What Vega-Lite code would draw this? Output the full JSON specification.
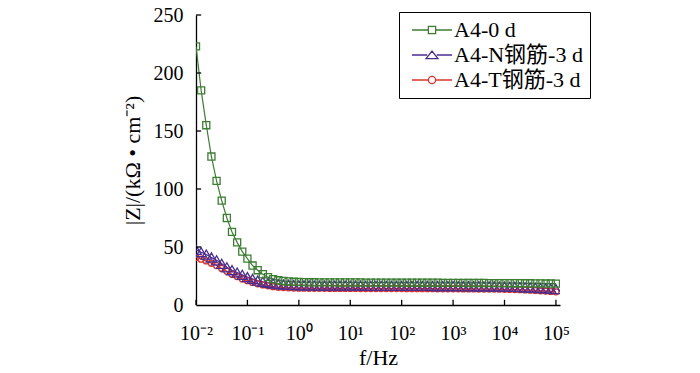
{
  "$schema": "https://vega.github.io/schema/vega-lite/v6.json",
  "autosize": "none",
  "width": 364,
  "height": 290,
  "padding": {"left": 196, "top": 15, "right": 140, "bottom": 68},
  "background": "white",
  "config": {
    "view": {"stroke": null},
    "font": "Liberation Serif",
    "axis": {"grid": false, "ticks": false, "domainColor": "black", "domainWidth": 1.3, "labelColor": "black", "titleColor": "black", "labelFont": "Liberation Serif", "titleFont": "Liberation Serif", "labelFontSize": 20, "titleFontSize": 22, "titleFontWeight": "normal"}
  },
  "datasets": {
    "xt": [{"f":0.01},{"f":0.1},{"f":1},{"f":10},{"f":100},{"f":1000},{"f":10000},{"f":100000}],
    "yt": [{"z":50},{"z":100},{"z":150},{"z":200},{"z":250}],
    "eis": [
      {"s":"A4-T钢筋-3 d","f":0.01,"z":41},{"s":"A4-T钢筋-3 d","f":0.01259,"z":39.5},{"s":"A4-T钢筋-3 d","f":0.01585,"z":38},{"s":"A4-T钢筋-3 d","f":0.01995,"z":36},{"s":"A4-T钢筋-3 d","f":0.02512,"z":34},{"s":"A4-T钢筋-3 d","f":0.03162,"z":31.5},{"s":"A4-T钢筋-3 d","f":0.03981,"z":29},{"s":"A4-T钢筋-3 d","f":0.05012,"z":26.5},{"s":"A4-T钢筋-3 d","f":0.0631,"z":24.5},{"s":"A4-T钢筋-3 d","f":0.07943,"z":22.5},
      {"s":"A4-T钢筋-3 d","f":0.1,"z":21},{"s":"A4-T钢筋-3 d","f":0.1259,"z":19.5},{"s":"A4-T钢筋-3 d","f":0.1585,"z":18.3},{"s":"A4-T钢筋-3 d","f":0.1995,"z":17.3},{"s":"A4-T钢筋-3 d","f":0.2512,"z":16.5},{"s":"A4-T钢筋-3 d","f":0.3162,"z":15.8},{"s":"A4-T钢筋-3 d","f":0.3981,"z":15.3},{"s":"A4-T钢筋-3 d","f":0.5012,"z":15},{"s":"A4-T钢筋-3 d","f":0.631,"z":14.8},{"s":"A4-T钢筋-3 d","f":0.7943,"z":14.6},
      {"s":"A4-T钢筋-3 d","f":1,"z":14.5},{"s":"A4-T钢筋-3 d","f":1.259,"z":14.5},{"s":"A4-T钢筋-3 d","f":1.585,"z":14.4},{"s":"A4-T钢筋-3 d","f":1.995,"z":14.4},{"s":"A4-T钢筋-3 d","f":2.512,"z":14.4},{"s":"A4-T钢筋-3 d","f":3.162,"z":14.4},{"s":"A4-T钢筋-3 d","f":3.981,"z":14.3},{"s":"A4-T钢筋-3 d","f":5.012,"z":14.3},{"s":"A4-T钢筋-3 d","f":6.31,"z":14.3},{"s":"A4-T钢筋-3 d","f":7.943,"z":14.3},
      {"s":"A4-T钢筋-3 d","f":10,"z":14.3},{"s":"A4-T钢筋-3 d","f":12.59,"z":14.3},{"s":"A4-T钢筋-3 d","f":15.85,"z":14.2},{"s":"A4-T钢筋-3 d","f":19.95,"z":14.2},{"s":"A4-T钢筋-3 d","f":25.12,"z":14.2},{"s":"A4-T钢筋-3 d","f":31.62,"z":14.2},{"s":"A4-T钢筋-3 d","f":39.81,"z":14.2},{"s":"A4-T钢筋-3 d","f":50.12,"z":14.2},{"s":"A4-T钢筋-3 d","f":63.1,"z":14.2},{"s":"A4-T钢筋-3 d","f":79.43,"z":14.2},
      {"s":"A4-T钢筋-3 d","f":100,"z":14.2},{"s":"A4-T钢筋-3 d","f":125.9,"z":14.1},{"s":"A4-T钢筋-3 d","f":158.5,"z":14.1},{"s":"A4-T钢筋-3 d","f":199.5,"z":14.1},{"s":"A4-T钢筋-3 d","f":251.2,"z":14.1},{"s":"A4-T钢筋-3 d","f":316.2,"z":14.1},{"s":"A4-T钢筋-3 d","f":398.1,"z":14.1},{"s":"A4-T钢筋-3 d","f":501.2,"z":14},{"s":"A4-T钢筋-3 d","f":631,"z":14},{"s":"A4-T钢筋-3 d","f":794.3,"z":14},
      {"s":"A4-T钢筋-3 d","f":1000,"z":14},{"s":"A4-T钢筋-3 d","f":1259,"z":14},{"s":"A4-T钢筋-3 d","f":1585,"z":13.9},{"s":"A4-T钢筋-3 d","f":1995,"z":13.9},{"s":"A4-T钢筋-3 d","f":2512,"z":13.9},{"s":"A4-T钢筋-3 d","f":3162,"z":13.8},{"s":"A4-T钢筋-3 d","f":3981,"z":13.8},{"s":"A4-T钢筋-3 d","f":5012,"z":13.7},{"s":"A4-T钢筋-3 d","f":6310,"z":13.7},{"s":"A4-T钢筋-3 d","f":7943,"z":13.6},
      {"s":"A4-T钢筋-3 d","f":10000,"z":13.5},{"s":"A4-T钢筋-3 d","f":12589,"z":13.4},{"s":"A4-T钢筋-3 d","f":15849,"z":13.3},{"s":"A4-T钢筋-3 d","f":19953,"z":13.2},{"s":"A4-T钢筋-3 d","f":25119,"z":13},{"s":"A4-T钢筋-3 d","f":31623,"z":12.8},{"s":"A4-T钢筋-3 d","f":39811,"z":12.6},{"s":"A4-T钢筋-3 d","f":50119,"z":12.3},{"s":"A4-T钢筋-3 d","f":63096,"z":12},{"s":"A4-T钢筋-3 d","f":79433,"z":11.7},
      {"s":"A4-T钢筋-3 d","f":100000,"z":11.4},

      {"s":"A4-N钢筋-3 d","f":0.01,"z":47.5},{"s":"A4-N钢筋-3 d","f":0.01259,"z":45.5},{"s":"A4-N钢筋-3 d","f":0.01585,"z":43.5},{"s":"A4-N钢筋-3 d","f":0.01995,"z":41},{"s":"A4-N钢筋-3 d","f":0.02512,"z":38.5},{"s":"A4-N钢筋-3 d","f":0.03162,"z":35.5},{"s":"A4-N钢筋-3 d","f":0.03981,"z":32.5},{"s":"A4-N钢筋-3 d","f":0.05012,"z":30},{"s":"A4-N钢筋-3 d","f":0.0631,"z":28},{"s":"A4-N钢筋-3 d","f":0.07943,"z":26},
      {"s":"A4-N钢筋-3 d","f":0.1,"z":24},{"s":"A4-N钢筋-3 d","f":0.1259,"z":22.5},{"s":"A4-N钢筋-3 d","f":0.1585,"z":21},{"s":"A4-N钢筋-3 d","f":0.1995,"z":20},{"s":"A4-N钢筋-3 d","f":0.2512,"z":19.2},{"s":"A4-N钢筋-3 d","f":0.3162,"z":18.5},{"s":"A4-N钢筋-3 d","f":0.3981,"z":18},{"s":"A4-N钢筋-3 d","f":0.5012,"z":17.6},{"s":"A4-N钢筋-3 d","f":0.631,"z":17.3},{"s":"A4-N钢筋-3 d","f":0.7943,"z":17.1},
      {"s":"A4-N钢筋-3 d","f":1,"z":17},{"s":"A4-N钢筋-3 d","f":1.259,"z":16.9},{"s":"A4-N钢筋-3 d","f":1.585,"z":16.9},{"s":"A4-N钢筋-3 d","f":1.995,"z":16.8},{"s":"A4-N钢筋-3 d","f":2.512,"z":16.8},{"s":"A4-N钢筋-3 d","f":3.162,"z":16.8},{"s":"A4-N钢筋-3 d","f":3.981,"z":16.8},{"s":"A4-N钢筋-3 d","f":5.012,"z":16.7},{"s":"A4-N钢筋-3 d","f":6.31,"z":16.7},{"s":"A4-N钢筋-3 d","f":7.943,"z":16.7},
      {"s":"A4-N钢筋-3 d","f":10,"z":16.7},{"s":"A4-N钢筋-3 d","f":12.59,"z":16.7},{"s":"A4-N钢筋-3 d","f":15.85,"z":16.7},{"s":"A4-N钢筋-3 d","f":19.95,"z":16.6},{"s":"A4-N钢筋-3 d","f":25.12,"z":16.6},{"s":"A4-N钢筋-3 d","f":31.62,"z":16.6},{"s":"A4-N钢筋-3 d","f":39.81,"z":16.6},{"s":"A4-N钢筋-3 d","f":50.12,"z":16.6},{"s":"A4-N钢筋-3 d","f":63.1,"z":16.6},{"s":"A4-N钢筋-3 d","f":79.43,"z":16.6},
      {"s":"A4-N钢筋-3 d","f":100,"z":16.5},{"s":"A4-N钢筋-3 d","f":125.9,"z":16.5},{"s":"A4-N钢筋-3 d","f":158.5,"z":16.5},{"s":"A4-N钢筋-3 d","f":199.5,"z":16.5},{"s":"A4-N钢筋-3 d","f":251.2,"z":16.5},{"s":"A4-N钢筋-3 d","f":316.2,"z":16.5},{"s":"A4-N钢筋-3 d","f":398.1,"z":16.4},{"s":"A4-N钢筋-3 d","f":501.2,"z":16.4},{"s":"A4-N钢筋-3 d","f":631,"z":16.4},{"s":"A4-N钢筋-3 d","f":794.3,"z":16.4},
      {"s":"A4-N钢筋-3 d","f":1000,"z":16.4},{"s":"A4-N钢筋-3 d","f":1259,"z":16.3},{"s":"A4-N钢筋-3 d","f":1585,"z":16.3},{"s":"A4-N钢筋-3 d","f":1995,"z":16.3},{"s":"A4-N钢筋-3 d","f":2512,"z":16.2},{"s":"A4-N钢筋-3 d","f":3162,"z":16.2},{"s":"A4-N钢筋-3 d","f":3981,"z":16.1},{"s":"A4-N钢筋-3 d","f":5012,"z":16.1},{"s":"A4-N钢筋-3 d","f":6310,"z":16},{"s":"A4-N钢筋-3 d","f":7943,"z":15.9},
      {"s":"A4-N钢筋-3 d","f":10000,"z":15.8},{"s":"A4-N钢筋-3 d","f":12589,"z":15.7},{"s":"A4-N钢筋-3 d","f":15849,"z":15.6},{"s":"A4-N钢筋-3 d","f":19953,"z":15.5},{"s":"A4-N钢筋-3 d","f":25119,"z":15.3},{"s":"A4-N钢筋-3 d","f":31623,"z":15.1},{"s":"A4-N钢筋-3 d","f":39811,"z":14.9},{"s":"A4-N钢筋-3 d","f":50119,"z":14.6},{"s":"A4-N钢筋-3 d","f":63096,"z":14.3},{"s":"A4-N钢筋-3 d","f":79433,"z":14},
      {"s":"A4-N钢筋-3 d","f":100000,"z":13.7},

      {"s":"A4-0 d","f":0.01,"z":223},{"s":"A4-0 d","f":0.01259,"z":185},{"s":"A4-0 d","f":0.01585,"z":155},{"s":"A4-0 d","f":0.01995,"z":128},{"s":"A4-0 d","f":0.02512,"z":107},{"s":"A4-0 d","f":0.03162,"z":90},{"s":"A4-0 d","f":0.03981,"z":75},{"s":"A4-0 d","f":0.05012,"z":63},{"s":"A4-0 d","f":0.0631,"z":54},{"s":"A4-0 d","f":0.07943,"z":46},
      {"s":"A4-0 d","f":0.1,"z":40},{"s":"A4-0 d","f":0.1259,"z":34},{"s":"A4-0 d","f":0.1585,"z":30},{"s":"A4-0 d","f":0.1995,"z":26.5},{"s":"A4-0 d","f":0.2512,"z":24},{"s":"A4-0 d","f":0.3162,"z":22.3},{"s":"A4-0 d","f":0.3981,"z":21.3},{"s":"A4-0 d","f":0.5012,"z":20.7},{"s":"A4-0 d","f":0.631,"z":20.3},{"s":"A4-0 d","f":0.7943,"z":20},
      {"s":"A4-0 d","f":1,"z":19.8},{"s":"A4-0 d","f":1.259,"z":19.7},{"s":"A4-0 d","f":1.585,"z":19.6},{"s":"A4-0 d","f":1.995,"z":19.6},{"s":"A4-0 d","f":2.512,"z":19.5},{"s":"A4-0 d","f":3.162,"z":19.5},{"s":"A4-0 d","f":3.981,"z":19.5},{"s":"A4-0 d","f":5.012,"z":19.5},{"s":"A4-0 d","f":6.31,"z":19.4},{"s":"A4-0 d","f":7.943,"z":19.4},
      {"s":"A4-0 d","f":10,"z":19.4},{"s":"A4-0 d","f":12.59,"z":19.4},{"s":"A4-0 d","f":15.85,"z":19.4},{"s":"A4-0 d","f":19.95,"z":19.3},{"s":"A4-0 d","f":25.12,"z":19.3},{"s":"A4-0 d","f":31.62,"z":19.3},{"s":"A4-0 d","f":39.81,"z":19.3},{"s":"A4-0 d","f":50.12,"z":19.3},{"s":"A4-0 d","f":63.1,"z":19.3},{"s":"A4-0 d","f":79.43,"z":19.3},
      {"s":"A4-0 d","f":100,"z":19.3},{"s":"A4-0 d","f":125.9,"z":19.3},{"s":"A4-0 d","f":158.5,"z":19.2},{"s":"A4-0 d","f":199.5,"z":19.2},{"s":"A4-0 d","f":251.2,"z":19.2},{"s":"A4-0 d","f":316.2,"z":19.2},{"s":"A4-0 d","f":398.1,"z":19.2},{"s":"A4-0 d","f":501.2,"z":19.2},{"s":"A4-0 d","f":631,"z":19.1},{"s":"A4-0 d","f":794.3,"z":19.1},
      {"s":"A4-0 d","f":1000,"z":19.1},{"s":"A4-0 d","f":1259,"z":19.1},{"s":"A4-0 d","f":1585,"z":19.1},{"s":"A4-0 d","f":1995,"z":19},{"s":"A4-0 d","f":2512,"z":19},{"s":"A4-0 d","f":3162,"z":19},{"s":"A4-0 d","f":3981,"z":19},{"s":"A4-0 d","f":5012,"z":18.9},{"s":"A4-0 d","f":6310,"z":18.9},{"s":"A4-0 d","f":7943,"z":18.9},
      {"s":"A4-0 d","f":10000,"z":18.9},{"s":"A4-0 d","f":12589,"z":18.8},{"s":"A4-0 d","f":15849,"z":18.8},{"s":"A4-0 d","f":19953,"z":18.8},{"s":"A4-0 d","f":25119,"z":18.7},{"s":"A4-0 d","f":31623,"z":18.7},{"s":"A4-0 d","f":39811,"z":18.6},{"s":"A4-0 d","f":50119,"z":18.6},{"s":"A4-0 d","f":63096,"z":18.5},{"s":"A4-0 d","f":79433,"z":18.5},
      {"s":"A4-0 d","f":100000,"z":18.4}
    ]
  },
  "layer": [
    {
      "data": {"name": "eis"},
      "mark": {"type": "line", "strokeWidth": 1.2, "clip": true},
      "encoding": {
        "x": {
          "field": "f", "type": "quantitative",
          "scale": {"type": "log", "domain": [0.01, 120000], "nice": false},
          "axis": {
            "title": "f/Hz",
            "values": [0.01, 0.1, 1, 10, 100, 1000, 10000, 100000],
            "labelPadding": 18,
            "titlePadding": 4,
            "labelFlush": false,
            "labelOverlap": false,
            "labelExpr": "datum.value < 0.05 ? '10⁻²' : datum.value < 0.5 ? '10⁻¹' : datum.value < 5 ? '10⁰' : datum.value < 50 ? '10¹' : datum.value < 500 ? '10²' : datum.value < 5000 ? '10³' : datum.value < 50000 ? '10⁴' : '10⁵'"
          }
        },
        "y": {
          "field": "z", "type": "quantitative",
          "scale": {"domain": [0, 250], "nice": false},
          "axis": {
            "title": "|Z|/(kΩ • cm⁻²)",
            "values": [0, 50, 100, 150, 200, 250],
            "labelPadding": 13,
            "titlePadding": 9,
            "labelFlush": false
          }
        },
        "color": {
          "field": "s", "type": "nominal",
          "scale": {"domain": ["A4-0 d", "A4-N钢筋-3 d", "A4-T钢筋-3 d"], "range": ["#3c7d33", "#4b2d8f", "#d9342b"]},
          "legend": {
            "title": null,
            "orient": "none",
            "legendX": 203,
            "legendY": -3,
            "direction": "vertical",
            "strokeColor": "black",
            "fillColor": "white",
            "padding": 7,
            "cornerRadius": 0,
            "labelFont": "Liberation Serif, Noto Sans CJK SC",
            "labelFontSize": 22,
            "labelColor": "black",
            "labelLimit": 300,
            "symbolSize": 64,
            "symbolOffset": 15,
            "labelOffset": 11,
            "rowPadding": 3,
            "symbolStrokeWidth": 1.3,
            "encode": {
              "symbols": {
                "update": {
                  "shape": {"signal": "datum.value === 'A4-0 d' ? 'M-5,0H-0.9M0.9,0H5M-0.9,-0.9H0.9V0.9H-0.9Z' : datum.value === 'A4-N钢筋-3 d' ? 'M-5,0H-1.2M1.2,0H5M-1.5,0.9L0,-1L1.5,0.9Z' : 'M-5,0H-0.9M0.9,0H5M0.9,0A0.9,0.9,0,1,1,-0.9,0A0.9,0.9,0,1,1,0.9,0Z'"},
                  "fill": {"value": "transparent"},
                  "stroke": {"scale": "color", "field": "value"},
                  "strokeWidth": {"value": 1.3}
                }
              }
            }
          }
        }
      }
    },
    {
      "data": {"name": "eis"},
      "transform": [{"filter": "datum.s === 'A4-T钢筋-3 d'"}],
      "mark": {"type": "point", "shape": "circle", "size": 36, "filled": false, "strokeWidth": 1.3, "opacity": 1, "clip": true},
      "encoding": {
        "x": {"field": "f", "type": "quantitative"},
        "y": {"field": "z", "type": "quantitative"},
        "color": {"field": "s", "type": "nominal", "legend": null}
      }
    },
    {
      "data": {"name": "eis"},
      "transform": [{"filter": "datum.s === 'A4-N钢筋-3 d'"}],
      "mark": {"type": "point", "shape": "triangle-up", "size": 110, "filled": false, "strokeWidth": 1.3, "opacity": 1, "clip": true},
      "encoding": {
        "x": {"field": "f", "type": "quantitative"},
        "y": {"field": "z", "type": "quantitative"},
        "color": {"field": "s", "type": "nominal", "legend": null}
      }
    },
    {
      "data": {"name": "eis"},
      "transform": [{"filter": "datum.s === 'A4-0 d'"}],
      "mark": {"type": "point", "shape": "square", "size": 50, "filled": false, "strokeWidth": 1.3, "opacity": 1, "clip": true},
      "encoding": {
        "x": {"field": "f", "type": "quantitative"},
        "y": {"field": "z", "type": "quantitative"},
        "color": {"field": "s", "type": "nominal", "legend": null}
      }
    },
    {
      "data": {"name": "xt"},
      "mark": {"type": "rule", "color": "black", "strokeWidth": 1.3},
      "encoding": {
        "x": {"field": "f", "type": "quantitative"},
        "y": {"datum": 0},
        "y2": {"datum": 4.5}
      }
    },
    {
      "data": {"name": "yt"},
      "mark": {"type": "rule", "color": "black", "strokeWidth": 1.3},
      "encoding": {
        "y": {"field": "z", "type": "quantitative"},
        "x": {"datum": 0.01},
        "x2": {"datum": 0.0126}
      }
    }
  ]
}
